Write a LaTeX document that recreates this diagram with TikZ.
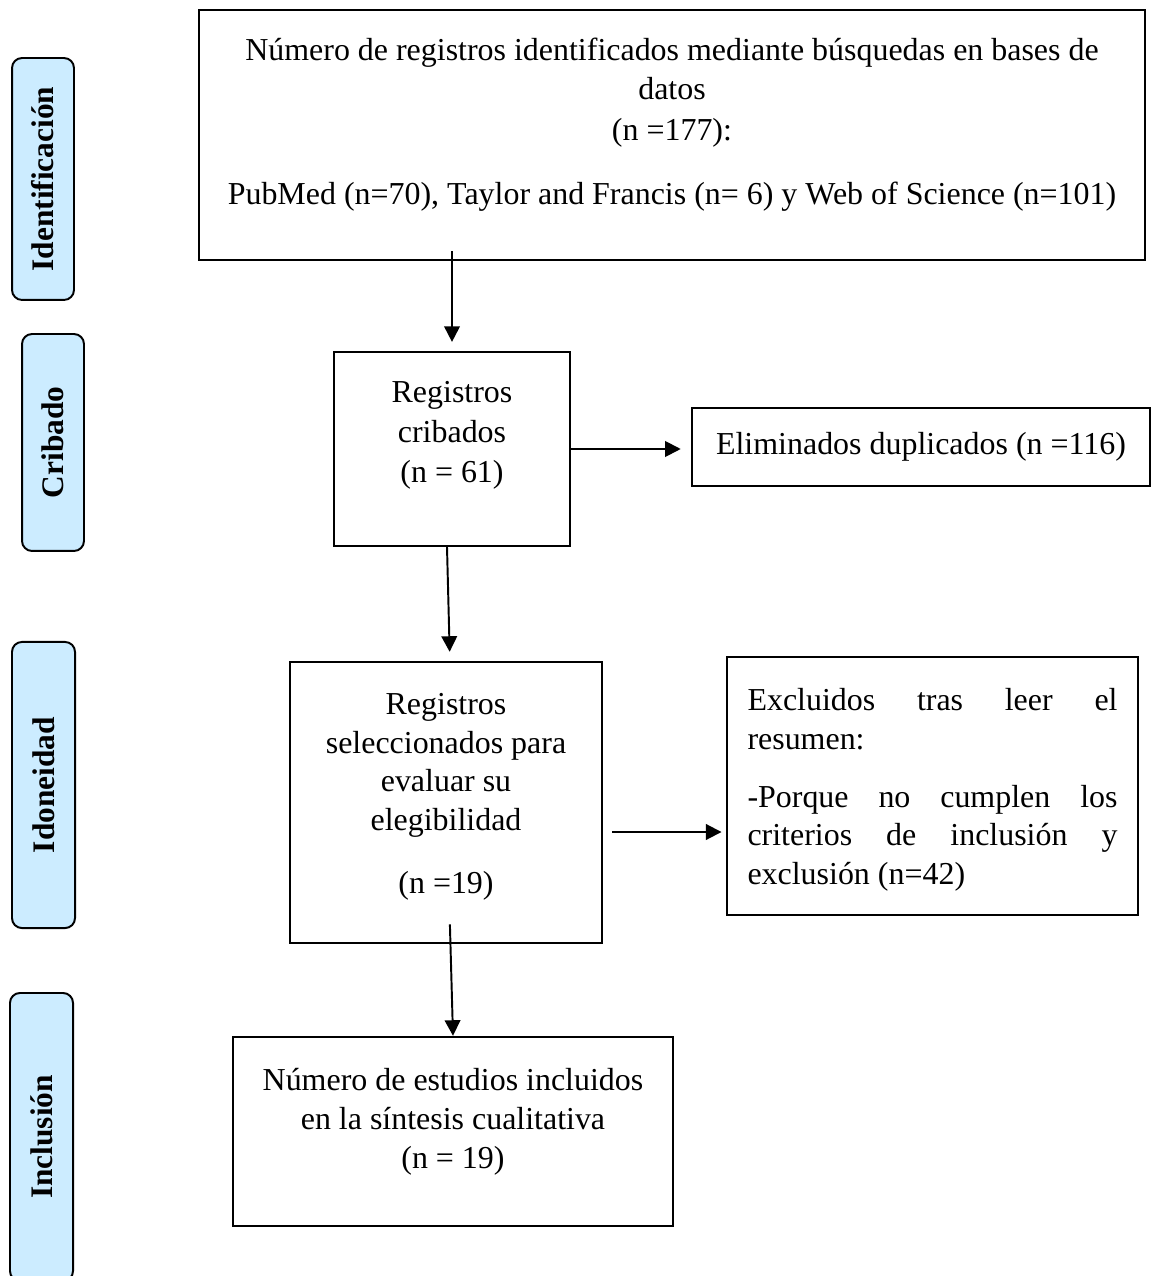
\documentclass[tikz,border=0pt]{standalone}
\usepackage{fontspec}
\setmainfont{Liberation Serif}
\usetikzlibrary{arrows.meta, positioning}
\definecolor{TabBlue}{HTML}{CCECFF}

\begin{document}
\begin{tikzpicture}[
    x=0.36pt, y=-0.36pt,
    stage/.style={rectangle, rounded corners=3.6pt, draw=black, line width=0.7pt, fill=TabBlue,
                  rotate=90, inner sep=0pt, font=\fontsize{11.3}{14}\selectfont\bfseries},
    box/.style={rectangle, draw=black, line width=0.9pt, inner sep=0pt},
    txt/.style={align=center, inner sep=0pt, font=\fontsize{11.5}{13.9}\selectfont,
                execute at begin node=\setlength{\parindent}{0pt}},
    arr/.style={-{Triangle[length=5.6pt, width=5.6pt]}, line width=0.7pt}
]
    \useasboundingbox (0,0) rectangle (1152,1276);

    % Stage tabs
    \node[stage, minimum width=87.1pt, minimum height=22.3pt] (sident) at (43,179) {Identificación};
    \node[stage, minimum width=78.1pt, minimum height=22.3pt] (scrib) at (53,442.5) {Cribado};
    \node[stage, minimum width=103pt, minimum height=22.7pt] (sidon) at (43.5,785) {Idoneidad};
    \node[stage, minimum width=103.7pt, minimum height=22.7pt] (sincl) at (41.5,1137) {Inclusión};

    % Boxes
    \node[box, minimum width=340.6pt, minimum height=90pt] (ident) at (672,135) {};
    \node[box, minimum width=85pt, minimum height=69.8pt] (crib) at (452,449) {};
    \node[box, txt, minimum width=164.9pt, minimum height=28.1pt] (dupl) at (921,447) {Eliminados duplicados (n =116)};
    \node[box, minimum width=112.3pt, minimum height=101.2pt] (selec) at (446,802.5) {};
    \node[box, minimum width=148pt, minimum height=92.9pt] (excl) at (932.5,786) {};
    \node[box, minimum width=158.4pt, minimum height=68pt] (incl) at (453,1131.5) {};

    % Box texts
    \node[txt] (identtxt) at ([yshift=3.8pt]ident.center)
        {Número de registros identificados mediante búsquedas en bases de\\ datos\\[1.2pt] (n =177):\\[8.8pt]
         PubMed (n=70), Taylor and Francis (n= 6) y Web of Science (n=101)};
    \node[txt] (cribtxt) at ([yshift=5pt]crib.center) {Registros\\[0.5pt] cribados\\[0.5pt] (n = 61)};
    \node[txt] (selectxt) at ([yshift=2pt]selec.center)
        {Registros\\ seleccionados para\\ evaluar su\\ elegibilidad\\[8.8pt] (n =19)};
    \node[txt, align=justify, text width=133.2pt] (excltxt) at ([yshift=-1.4pt]excl.center)
        {Excluidos tras leer el\linebreak resumen:\par\vspace{7pt}
         -Porque no cumplen los\linebreak criterios de inclusión y\linebreak exclusión (n=42)};
    \node[txt] (incltxt) at ([yshift=3.5pt]incl.center)
        {Número de estudios incluidos\\ en la síntesis cualitativa\\ (n = 19)};

    % Connectors
    \coordinate (identfrom) at (crib.north |- ident.south);
    \coordinate (exclfrom) at (612,832);
    \draw[arr, shorten >=3.2pt] ([yshift=3.6pt]identfrom) -- (crib.north);
    \draw[arr, shorten >=3.6pt] (crib.east) -- (crib.east -| dupl.west);
    \draw[arr, shorten >=3.2pt] ([xshift=-1.8pt]crib.south) -- ([xshift=1.4pt]selec.north);
    \draw[arr, shorten >=1.5pt] (exclfrom) -- (exclfrom -| excl.west);
    \draw[arr] ([xshift=1.4pt, yshift=7.2pt]selec.south) -- (incl.north);
\end{tikzpicture}
\end{document}
